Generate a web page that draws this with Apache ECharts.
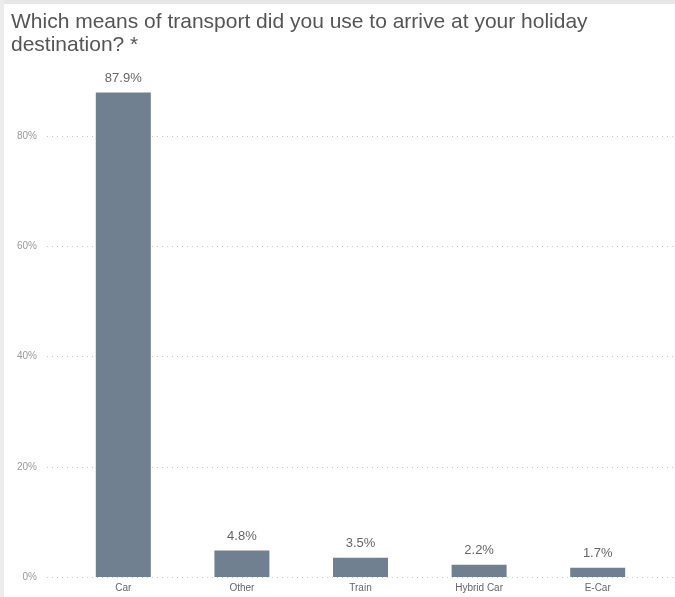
<!DOCTYPE html>
<html>
<head>
<meta charset="utf-8">
<script src="https://cdn.jsdelivr.net/npm/echarts@6/dist/echarts.min.js"></script>
<style>
html,body{margin:0;padding:0;background:#fff;}
#chart{width:675px;height:597px;}
</style>
</head>
<body>
<div id="chart"></div>
<script>
const titleText = 'Which means of transport did you use to arrive at your holiday\ndestination? *';
const categories = ['Car', 'Other', 'Train', 'Hybrid Car', 'E-Car'];
const values = [87.9, 4.8, 3.5, 2.2, 1.7];
const yTicks = [0, 20, 40, 60, 80];

const chart = echarts.init(document.getElementById('chart'));
chart.setOption({
  animation: false,
  title: {
    text: titleText,
    left: 6, top: 6,
    textStyle: { fontFamily: 'Liberation Sans, Arial, sans-serif', fontSize: 21, fontWeight: 'normal', color: '#555', lineHeight: 23 }
  },
  graphic: [
    { type: 'rect', shape: { x: 0, y: 0, width: 675, height: 4 }, style: { fill: '#e6e6e6' }, silent: true },
    { type: 'rect', shape: { x: 0, y: 0, width: 4, height: 597 }, style: { fill: '#ececec' }, silent: true }
  ],
  grid: [
    { left: 47, right: 0, top: 136, bottom: 20 },
    { left: 64, right: 18, top: 136, bottom: 20 }
  ],
  xAxis: [
    { type: 'category', gridIndex: 0, data: categories, show: false },
    { type: 'category', gridIndex: 1, data: categories,
      axisLine: { show: false }, axisTick: { show: false },
      axisLabel: { color: '#666', fontSize: 10, fontFamily: 'Liberation Sans, Arial, sans-serif', margin: 6 } }
  ],
  yAxis: [
    { type: 'value', gridIndex: 0, min: yTicks[0], max: yTicks[yTicks.length - 1], interval: 20,
      axisLine: { show: false }, axisTick: { show: false },
      axisLabel: { formatter: '{value}%', color: '#999', fontSize: 10, fontFamily: 'Liberation Sans, Arial, sans-serif', margin: 10 },
      splitLine: { lineStyle: { type: [1, 4], color: '#c8c8c8', width: 1 } } },
    { type: 'value', gridIndex: 1, min: yTicks[0], max: yTicks[yTicks.length - 1], interval: 20, show: false,
      splitLine: { show: false } }
  ],
  series: [{
    type: 'bar',
    xAxisIndex: 1, yAxisIndex: 1,
    data: values,
    barWidth: 55,
    clip: false,
    itemStyle: { color: '#708090' },
    label: { show: true, position: 'top', distance: 8, formatter: p => p.value.toFixed(1) + '%',
      color: '#666', fontSize: 13, fontFamily: 'Liberation Sans, Arial, sans-serif' }
  }]
});
</script>
</body>
</html>
